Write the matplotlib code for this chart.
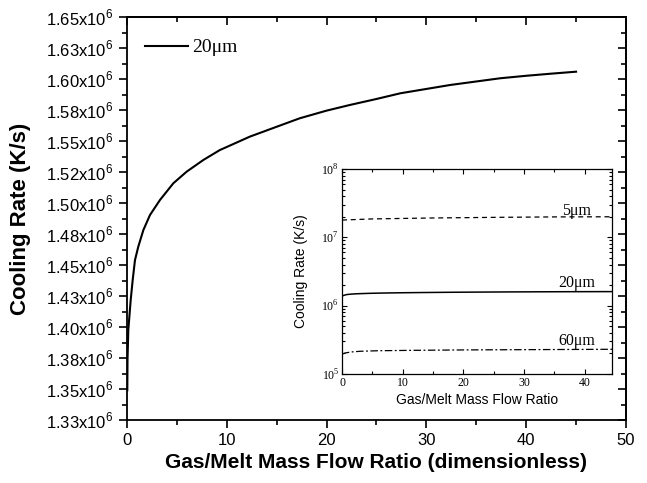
import matplotlib
matplotlib.use("Agg")
import matplotlib.pyplot as plt
import numpy as np
from matplotlib.ticker import MultipleLocator, LogLocator, NullFormatter

plt.rcParams['mathtext.fontset'] = 'custom'
plt.rcParams['mathtext.rm'] = 'Liberation Serif'
plt.rcParams['mathtext.sf'] = 'Liberation Sans'

# ---- data ----
ratio = [0.03, 0.05, 0.13, 0.37, 0.57, 0.8, 1.13, 1.64, 2.3, 3.3, 4.64, 5.98, 7.65,
         9.3, 10.0, 12.3, 15.0, 17.3, 20.0, 22.3, 25.0, 27.4, 32.4, 37.4, 40.0, 42.5, 45.0]
rate_20um = [1.349e6, 1.3734e6, 1.3976e6, 1.4218e6, 1.438e6, 1.454e6, 1.4648e6, 1.4782e6,
             1.4903e6, 1.5024e6, 1.5159e6, 1.5253e6, 1.5347e6, 1.5427e6, 1.5452e6,
             1.5535e6, 1.5615e6, 1.5683e6, 1.5745e6, 1.579e6, 1.5839e6, 1.5885e6,
             1.5952e6, 1.6006e6, 1.6026e6, 1.6043e6, 1.6059e6]

ratio_5um = [0.0, 5.0, 15.0, 25.0, 35.0, 45.0]
rate_5um = [1.79e7, 1.86e7, 1.92e7, 1.96e7, 1.99e7, 2.0e7]

ratio_60um = [0.0, 0.5, 1.5, 3.0, 6.0, 12.0, 20.0, 30.0, 45.0]
rate_60um = [1.95e5, 2.03e5, 2.1e5, 2.15e5, 2.19e5, 2.22e5, 2.25e5, 2.27e5, 2.3e5]

y_ticks = [1.325e6, 1.35e6, 1.375e6, 1.40e6, 1.425e6, 1.45e6, 1.475e6, 1.50e6,
           1.525e6, 1.55e6, 1.575e6, 1.60e6, 1.625e6, 1.65e6]
y_tick_labels = ["1.33", "1.35", "1.38", "1.40", "1.43", "1.45", "1.48", "1.50",
                 "1.52", "1.55", "1.58", "1.60", "1.63", "1.65"]
x_ticks = [0, 10, 20, 30, 40, 50]
inset_x_ticks = [0, 10, 20, 30, 40]
inset_y_ticks = [1e5, 1e6, 1e7, 1e8]
inset_labels = ["5μm", "20μm", "60μm"]
inset_label_pos = [(38.7, 2.15e7), (38.7, 1.87e6), (38.7, 2.65e5)]

sans = 'Liberation Sans'
serif = 'Liberation Serif'

fig = plt.figure(figsize=(6.47, 4.83), dpi=100)
ax = fig.add_axes([0.1963, 0.1304, 0.7712, 0.8344])

ax.plot(ratio, rate_20um, color='black', lw=1.5, label="20μm")
ax.set_xlim(0, 50)
ax.set_ylim(1.325e6, 1.65e6)

ax.set_xticks(x_ticks)
ax.set_xticklabels([str(t) for t in x_ticks], fontfamily=sans, fontsize=12)
ax.xaxis.set_minor_locator(MultipleLocator(5))
ax.set_yticks(y_ticks)
ax.set_yticklabels([f"{l}x10$^{{\\mathsf{{6}}}}$" for l in y_tick_labels],
                   fontfamily=sans, fontsize=12)
ax.yaxis.set_minor_locator(MultipleLocator(0.0125e6))
ax.tick_params(which='both', direction='out', top=False, right=False, width=1.2)
ax.tick_params(which='major', length=6)
ax.tick_params(which='minor', length=3.5)
ax.tick_params(axis='x', pad=3)
for s in ax.spines.values():
    s.set_linewidth(1.3)

# mirrored inward ticks on top and right
axt = ax.secondary_xaxis('top')
axt.set_xticks(x_ticks)
axt.xaxis.set_minor_locator(MultipleLocator(5))
axt.tick_params(which='both', direction='in', labeltop=False, width=1.2)
axt.tick_params(which='major', length=6)
axt.tick_params(which='minor', length=3.5)
axt.spines['top'].set_linewidth(1.3)
axr = ax.secondary_yaxis('right')
axr.set_yticks(y_ticks)
axr.yaxis.set_minor_locator(MultipleLocator(0.0125e6))
axr.tick_params(which='both', direction='in', labelright=False, width=1.2)
axr.tick_params(which='major', length=6)
axr.tick_params(which='minor', length=3.5)
axr.spines['right'].set_linewidth(1.3)

ax.set_xlabel("Gas/Melt Mass Flow Ratio (dimensionless)", fontfamily=sans,
              fontweight='bold', fontsize=15, labelpad=4)
ax.set_ylabel("Cooling Rate (K/s)", fontfamily=sans, fontweight='bold',
              fontsize=16, labelpad=11)

ax.legend(loc='upper left', bbox_to_anchor=(0.02, 0.965), frameon=False,
          prop={'family': serif, 'size': 14}, handlelength=2.2,
          handletextpad=0.25, borderaxespad=0)

# ---- inset ----
ins = fig.add_axes([0.5286, 0.2257, 0.4173, 0.4244])
ins.plot(ratio_5um, rate_5um, color='black', lw=0.9, ls=(0, (4, 3)))
ins.plot(ratio, rate_20um, color='black', lw=1.1)
ins.plot(ratio_60um, rate_60um, color='black', lw=0.9, ls=(0, (6, 2, 1.5, 2)))
ins.set_yscale('log')
ins.set_xlim(0, 44.5)
ins.set_ylim(1e5, 1e8)
ins.set_xticks(inset_x_ticks)
ins.set_xticklabels([str(t) for t in inset_x_ticks], fontfamily=serif, fontsize=8.5)
ins.xaxis.set_minor_locator(MultipleLocator(5))
ins.set_yticks(inset_y_ticks)
ins.set_yticklabels([f"10$^{{\\mathrm{{{int(np.log10(t))}}}}}$" for t in inset_y_ticks],
                    fontfamily=serif, fontsize=8.5)
ins.yaxis.set_minor_locator(LogLocator(base=10, subs=np.arange(2, 10)))
ins.yaxis.set_minor_formatter(NullFormatter())
ins.tick_params(which='both', direction='in', top=True, right=True, width=0.8, pad=2)
ins.tick_params(which='major', length=3.5)
ins.tick_params(which='minor', length=2)
for s in ins.spines.values():
    s.set_linewidth(0.9)
ins.set_xlabel("Gas/Melt Mass Flow Ratio", fontfamily=sans, fontsize=10, labelpad=3)
ins.set_ylabel("Cooling Rate (K/s)", fontfamily=sans, fontsize=10, labelpad=10)
for lab, (lx, ly) in zip(inset_labels, inset_label_pos):
    ins.text(lx, ly, lab, fontfamily=serif, fontsize=11.5, ha='center', va='baseline')

fig.savefig("out.png", dpi=100)
